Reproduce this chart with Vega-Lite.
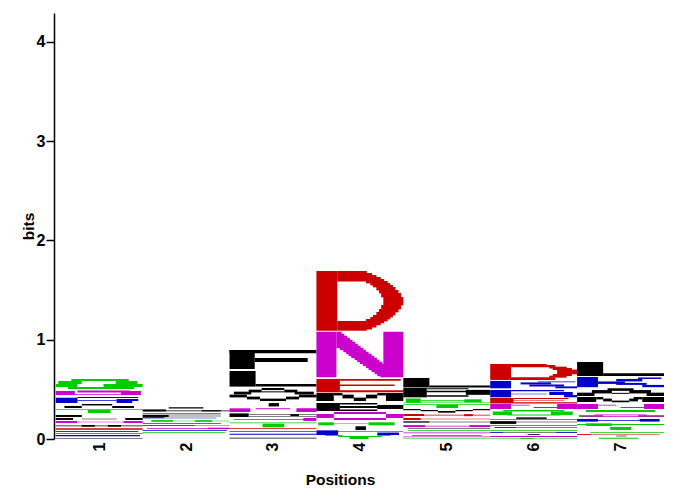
{"$schema":"https://vega.github.io/schema/vega-lite/v6.json","width":610,"height":426,"autosize":{"type":"none"},"padding":{"left":54,"top":13,"right":16,"bottom":52},"background":"white","config":{"view":{"stroke":null}},
"data":{"values":[
{"r":"G","a":0.68,"b":1.34,"y":0.584,"t":0.605},{"r":"G","a":0.53,"b":0.80,"y":0.554,"t":0.584},{"r":"G","a":1.19,"b":1.44,"y":0.554,"t":0.584},{"r":"G","a":0.5,"b":0.75,"y":0.524,"t":0.554},{"r":"G","a":1.05,"b":1.5,"y":0.524,"t":0.554},{"r":"G","a":0.64,"b":1.40,"y":0.504,"t":0.524},
{"r":"N","a":0.75,"b":1.35,"y":0.469,"t":0.489},{"r":"N","a":0.5,"b":0.72,"y":0.443,"t":0.484},{"r":"N","a":1.25,"b":1.48,"y":0.443,"t":0.484},{"r":"N","a":0.7,"b":1.3,"y":0.446,"t":0.454},
{"r":"K","a":0.5,"b":0.75,"y":0.363,"t":0.416},{"r":"K","a":0.75,"b":1.45,"y":0.413,"t":0.423},{"r":"K","a":0.75,"b":1.2,"y":0.385,"t":0.393},{"r":"K","a":1.2,"b":1.45,"y":0.383,"t":0.403},{"r":"K","a":1.2,"b":1.38,"y":0.363,"t":0.383},
{"r":"A","a":0.8,"b":1.15,"y":0.338,"t":0.353},{"r":"A","a":0.6,"b":0.8,"y":0.312,"t":0.333},{"r":"A","a":1.15,"b":1.4,"y":0.312,"t":0.333},
{"r":"T","a":0.5,"b":1.5,"y":0.295,"t":0.302},{"r":"T","a":0.87,"b":1.13,"y":0.262,"t":0.292},
{"r":"L","a":0.5,"b":0.8,"y":0.222,"t":0.242},{"r":"L","a":0.5,"b":0.7,"y":0.192,"t":0.212},{"r":"L","a":1.3,"b":1.5,"y":0.192,"t":0.212},{"r":"L","a":0.8,"b":1.2,"y":0.199,"t":0.205},
{"r":"N","a":0.5,"b":0.75,"y":0.161,"t":0.181},{"r":"N","a":1.28,"b":1.5,"y":0.161,"t":0.181},{"r":"N","a":0.75,"b":1.28,"y":0.169,"t":0.174},
{"r":"L","a":0.5,"b":1.5,"y":0.129,"t":0.135},{"r":"L","a":0.8,"b":0.95,"y":0.124,"t":0.141},{"r":"L","a":1.1,"b":1.25,"y":0.124,"t":0.141},
{"r":"D","a":0.5,"b":1.5,"y":0.094,"t":0.108},{"r":"L","a":0.5,"b":1.45,"y":0.071,"t":0.079},{"r":"N","a":0.5,"b":1.5,"y":0.053,"t":0.06},{"r":"K","a":0.5,"b":1.47,"y":0.027,"t":0.04},{"r":"L","a":0.5,"b":1.5,"y":0.004,"t":0.01},

{"r":"A","a":1.8,"b":2.2,"y":0.308,"t":0.32},{"r":"L","a":1.5,"b":2.5,"y":0.28,"t":0.287},{"r":"L","a":1.5,"b":1.77,"y":0.278,"t":0.298},{"r":"L","a":2.18,"b":2.4,"y":0.278,"t":0.29},
{"r":"L","a":1.5,"b":2.4,"y":0.25,"t":0.256},{"r":"L","a":1.5,"b":1.8,"y":0.222,"t":0.242},{"r":"L","a":1.8,"b":2.4,"y":0.228,"t":0.234},
{"r":"K","a":1.5,"b":1.75,"y":0.208,"t":0.22},{"r":"K","a":1.75,"b":2.35,"y":0.21,"t":0.215},
{"r":"G","a":1.6,"b":2.5,"y":0.178,"t":0.184},{"r":"G","a":1.6,"b":1.85,"y":0.174,"t":0.19},{"r":"G","a":2.1,"b":2.3,"y":0.174,"t":0.19},
{"r":"D","a":1.5,"b":2.4,"y":0.152,"t":0.158},{"r":"N","a":1.5,"b":2.5,"y":0.13,"t":0.136},{"r":"L","a":1.5,"b":2.1,"y":0.131,"t":0.135},{"r":"N","a":1.55,"b":2.5,"y":0.102,"t":0.108},{"r":"N","a":2.25,"b":2.5,"y":0.1,"t":0.114},{"r":"K","a":1.5,"b":2.47,"y":0.084,"t":0.09},{"r":"G","a":1.5,"b":2.45,"y":0.064,"t":0.07},

{"r":"F","a":2.5,"b":3.5,"y":0.865,"t":0.897},{"r":"F","a":2.5,"b":2.79,"y":0.705,"t":0.897},{"r":"F","a":2.79,"b":3.4,"y":0.777,"t":0.817},
{"r":"L","a":2.5,"b":2.8,"y":0.528,"t":0.685},{"r":"L","a":2.8,"b":3.5,"y":0.528,"t":0.554},
{"r":"A","a":2.87,"b":3.13,"y":0.493,"t":0.514},{"r":"A","a":2.72,"b":2.87,"y":0.469,"t":0.497},{"r":"A","a":3.13,"b":3.28,"y":0.469,"t":0.497},{"r":"A","a":2.55,"b":2.75,"y":0.449,"t":0.477},{"r":"A","a":3.25,"b":3.47,"y":0.449,"t":0.477},{"r":"A","a":2.87,"b":3.13,"y":0.47,"t":0.48},
{"r":"V","a":2.5,"b":2.7,"y":0.419,"t":0.447},{"r":"V","a":3.3,"b":3.5,"y":0.419,"t":0.447},{"r":"V","a":2.7,"b":2.85,"y":0.399,"t":0.427},{"r":"V","a":3.15,"b":3.3,"y":0.399,"t":0.427},{"r":"V","a":2.85,"b":3.15,"y":0.383,"t":0.407},
{"r":"I","a":2.95,"b":3.07,"y":0.328,"t":0.362},
{"r":"N","a":2.5,"b":2.74,"y":0.272,"t":0.309},{"r":"N","a":3.27,"b":3.5,"y":0.272,"t":0.309},{"r":"N","a":2.8,"b":3.2,"y":0.3,"t":0.309},
{"r":"L","a":2.5,"b":2.72,"y":0.222,"t":0.258},{"r":"L","a":2.72,"b":3.5,"y":0.247,"t":0.252},{"r":"L","a":3.2,"b":3.3,"y":0.232,"t":0.25},{"r":"L","a":2.72,"b":3.5,"y":0.225,"t":0.23},
{"r":"N","a":2.55,"b":3.4,"y":0.192,"t":0.2},{"r":"N","a":3.35,"b":3.5,"y":0.182,"t":0.212},
{"r":"G","a":2.5,"b":3.5,"y":0.159,"t":0.165},{"r":"G","a":2.88,"b":3.13,"y":0.118,"t":0.154},
{"r":"D","a":2.5,"b":3.5,"y":0.102,"t":0.108},{"r":"D","a":2.5,"b":3.5,"y":0.072,"t":0.08},{"r":"K","a":2.5,"b":3.5,"y":0.044,"t":0.053},{"r":"L","a":2.5,"b":3.5,"y":0.004,"t":0.012},

{"r":"D","a":3.5,"b":3.74,"y":1.091,"t":1.693},
{"r":"D","a":3.74,"b":4.08,"y":1.669,"t":1.693},{"r":"D","a":3.74,"b":4.14,"y":1.648,"t":1.673},{"r":"D","a":3.74,"b":4.19,"y":1.628,"t":1.652},{"r":"D","a":3.74,"b":4.24,"y":1.608,"t":1.632},{"r":"D","a":3.74,"b":4.28,"y":1.588,"t":1.612},
{"r":"D","a":4.07,"b":4.32,"y":1.568,"t":1.592},{"r":"D","a":4.12,"b":4.35,"y":1.548,"t":1.572},{"r":"D","a":4.15,"b":4.38,"y":1.528,"t":1.552},{"r":"D","a":4.19,"b":4.41,"y":1.497,"t":1.532},{"r":"D","a":4.22,"b":4.445,"y":1.467,"t":1.501},{"r":"D","a":4.245,"b":4.475,"y":1.427,"t":1.471},{"r":"D","a":4.27,"b":4.5,"y":1.346,"t":1.431},{"r":"D","a":4.245,"b":4.475,"y":1.306,"t":1.35},{"r":"D","a":4.22,"b":4.445,"y":1.276,"t":1.31},{"r":"D","a":4.19,"b":4.41,"y":1.245,"t":1.28},{"r":"D","a":4.15,"b":4.38,"y":1.225,"t":1.249},{"r":"D","a":4.12,"b":4.35,"y":1.205,"t":1.229},{"r":"D","a":4.07,"b":4.32,"y":1.185,"t":1.209},
{"r":"D","a":3.74,"b":4.28,"y":1.165,"t":1.189},{"r":"D","a":3.74,"b":4.24,"y":1.145,"t":1.169},{"r":"D","a":3.74,"b":4.19,"y":1.124,"t":1.149},{"r":"D","a":3.74,"b":4.14,"y":1.104,"t":1.128},{"r":"D","a":3.74,"b":4.08,"y":1.091,"t":1.108},

{"r":"N","a":3.5,"b":3.73,"y":0.621,"t":1.081},{"r":"N","a":4.27,"b":4.5,"y":0.621,"t":1.081},
{"r":"N","a":3.73,"b":3.79,"y":1.057,"t":1.081},{"r":"N","a":3.73,"b":3.82,"y":1.037,"t":1.061},{"r":"N","a":3.73,"b":3.854,"y":1.016,"t":1.041},{"r":"N","a":3.73,"b":3.885,"y":0.996,"t":1.02},{"r":"N","a":3.73,"b":3.915,"y":0.976,"t":1.0},{"r":"N","a":3.73,"b":3.946,"y":0.956,"t":0.98},{"r":"N","a":3.73,"b":3.977,"y":0.936,"t":0.96},{"r":"N","a":3.73,"b":4.008,"y":0.916,"t":0.94},{"r":"N","a":3.77,"b":4.04,"y":0.895,"t":0.92},{"r":"N","a":3.81,"b":4.07,"y":0.875,"t":0.899},{"r":"N","a":3.84,"b":4.1,"y":0.855,"t":0.879},{"r":"N","a":3.87,"b":4.135,"y":0.835,"t":0.859},{"r":"N","a":3.9,"b":4.165,"y":0.815,"t":0.839},{"r":"N","a":3.94,"b":4.196,"y":0.795,"t":0.819},{"r":"N","a":3.97,"b":4.227,"y":0.774,"t":0.799},{"r":"N","a":4.0,"b":4.258,"y":0.754,"t":0.778},{"r":"N","a":4.035,"b":4.28,"y":0.734,"t":0.758},{"r":"N","a":4.07,"b":4.28,"y":0.714,"t":0.738},{"r":"N","a":4.1,"b":4.28,"y":0.694,"t":0.718},{"r":"N","a":4.135,"b":4.28,"y":0.674,"t":0.698},{"r":"N","a":4.17,"b":4.28,"y":0.653,"t":0.678},{"r":"N","a":4.2,"b":4.28,"y":0.633,"t":0.657},{"r":"N","a":4.235,"b":4.28,"y":0.621,"t":0.637},

{"r":"E","a":3.5,"b":3.77,"y":0.47,"t":0.605},{"r":"E","a":3.77,"b":4.47,"y":0.588,"t":0.605},{"r":"E","a":3.77,"b":4.4,"y":0.535,"t":0.55},{"r":"E","a":3.77,"b":4.5,"y":0.47,"t":0.49},
{"r":"M","a":3.5,"b":3.7,"y":0.383,"t":0.463},{"r":"M","a":4.3,"b":4.5,"y":0.383,"t":0.463},{"r":"M","a":3.7,"b":3.8,"y":0.439,"t":0.463},{"r":"M","a":4.2,"b":4.3,"y":0.439,"t":0.463},{"r":"M","a":3.8,"b":3.93,"y":0.409,"t":0.447},{"r":"M","a":4.07,"b":4.2,"y":0.409,"t":0.447},{"r":"M","a":3.93,"b":4.07,"y":0.383,"t":0.417},
{"r":"P","a":3.5,"b":3.77,"y":0.282,"t":0.363},{"r":"P","a":3.77,"b":4.2,"y":0.348,"t":0.363},{"r":"P","a":3.77,"b":4.45,"y":0.312,"t":0.333},{"r":"P","a":3.77,"b":4.2,"y":0.282,"t":0.297},{"r":"P","a":4.2,"b":4.5,"y":0.302,"t":0.343},
{"r":"O","a":3.7,"b":4.3,"y":0.252,"t":0.272},{"r":"O","a":3.5,"b":3.7,"y":0.212,"t":0.252},{"r":"O","a":4.3,"b":4.5,"y":0.212,"t":0.252},{"r":"O","a":3.7,"b":4.3,"y":0.192,"t":0.212},
{"r":"G","a":3.52,"b":3.7,"y":0.138,"t":0.168},{"r":"G","a":4.1,"b":4.4,"y":0.138,"t":0.168},{"r":"G","a":3.7,"b":4.1,"y":0.15,"t":0.156},
{"r":"I","a":3.95,"b":4.07,"y":0.09,"t":0.128},
{"r":"K","a":3.5,"b":3.75,"y":0.04,"t":0.087},{"r":"K","a":3.75,"b":4.5,"y":0.075,"t":0.08},{"r":"K","a":4.2,"b":4.45,"y":0.04,"t":0.065},
{"r":"G","a":3.6,"b":3.8,"y":0.03,"t":0.04},{"r":"G","a":4.2,"b":4.35,"y":0.03,"t":0.04},{"r":"G","a":3.88,"b":4.1,"y":0.0,"t":0.02},{"r":"G","a":3.75,"b":4.25,"y":0.02,"t":0.03},

{"r":"L","a":4.5,"b":4.8,"y":0.52,"t":0.615},{"r":"L","a":4.8,"b":5.5,"y":0.52,"t":0.54},
{"r":"P","a":4.5,"b":4.77,"y":0.42,"t":0.515},{"r":"P","a":4.77,"b":5.25,"y":0.5,"t":0.512},{"r":"P","a":4.77,"b":5.5,"y":0.47,"t":0.485},{"r":"P","a":5.22,"b":5.5,"y":0.445,"t":0.495},{"r":"P","a":4.77,"b":5.25,"y":0.425,"t":0.44},
{"r":"G","a":4.53,"b":4.7,"y":0.365,"t":0.408},{"r":"G","a":5.2,"b":5.4,"y":0.37,"t":0.4},{"r":"G","a":4.7,"b":5.2,"y":0.38,"t":0.39},{"r":"G","a":4.5,"b":5.5,"y":0.362,"t":0.368},
{"r":"T","a":4.5,"b":5.5,"y":0.345,"t":0.352},{"r":"T","a":4.88,"b":5.13,"y":0.312,"t":0.344},
{"r":"V","a":4.5,"b":4.7,"y":0.29,"t":0.302},{"r":"V","a":5.3,"b":5.5,"y":0.29,"t":0.302},{"r":"V","a":4.7,"b":4.9,"y":0.28,"t":0.292},{"r":"V","a":5.1,"b":5.3,"y":0.28,"t":0.292},{"r":"V","a":4.9,"b":5.1,"y":0.265,"t":0.282},
{"r":"D","a":4.5,"b":4.74,"y":0.232,"t":0.252},{"r":"D","a":4.74,"b":5.5,"y":0.238,"t":0.245},{"r":"D","a":5.2,"b":5.3,"y":0.23,"t":0.25},
{"r":"D","a":4.5,"b":4.7,"y":0.192,"t":0.212},{"r":"D","a":4.7,"b":5.5,"y":0.198,"t":0.205},
{"r":"L","a":4.5,"b":4.8,"y":0.165,"t":0.178},{"r":"L","a":4.8,"b":5.5,"y":0.17,"t":0.175},
{"r":"N","a":4.5,"b":4.75,"y":0.12,"t":0.14},{"r":"N","a":5.26,"b":5.5,"y":0.12,"t":0.14},{"r":"N","a":4.75,"b":5.26,"y":0.127,"t":0.133},
{"r":"L","a":4.55,"b":5.5,"y":0.1,"t":0.106},{"r":"G","a":4.55,"b":5.5,"y":0.08,"t":0.087},{"r":"N","a":4.5,"b":5.5,"y":0.058,"t":0.065},{"r":"L","a":4.6,"b":5.4,"y":0.03,"t":0.036},{"r":"N","a":4.5,"b":5.5,"y":0.024,"t":0.03},{"r":"G","a":4.5,"b":5.5,"y":0.005,"t":0.012},

{"r":"D","a":5.5,"b":5.74,"y":0.595,"t":0.756},{"r":"D","a":5.74,"b":6.15,"y":0.743,"t":0.756},{"r":"D","a":5.74,"b":6.25,"y":0.722,"t":0.745},{"r":"D","a":6.18,"b":6.38,"y":0.71,"t":0.729},{"r":"D","a":6.22,"b":6.44,"y":0.696,"t":0.715},{"r":"D","a":6.27,"b":6.5,"y":0.652,"t":0.7},{"r":"D","a":6.22,"b":6.44,"y":0.634,"t":0.655},{"r":"D","a":6.18,"b":6.38,"y":0.618,"t":0.638},{"r":"D","a":5.74,"b":6.25,"y":0.595,"t":0.622},
{"r":"K","a":5.5,"b":5.74,"y":0.511,"t":0.585},{"r":"K","a":6.05,"b":6.48,"y":0.572,"t":0.58},{"r":"K","a":5.85,"b":6.2,"y":0.55,"t":0.57},{"r":"K","a":5.95,"b":6.35,"y":0.53,"t":0.55},{"r":"K","a":6.25,"b":6.5,"y":0.511,"t":0.53},
{"r":"R","a":5.5,"b":5.74,"y":0.42,"t":0.494},{"r":"R","a":5.74,"b":6.35,"y":0.48,"t":0.494},{"r":"R","a":6.18,"b":6.45,"y":0.443,"t":0.474},{"r":"R","a":6.35,"b":6.5,"y":0.42,"t":0.443},{"r":"R","a":5.74,"b":6.15,"y":0.45,"t":0.457},
{"r":"E","a":5.5,"b":5.77,"y":0.358,"t":0.413},{"r":"E","a":5.77,"b":6.4,"y":0.403,"t":0.413},{"r":"E","a":5.77,"b":6.35,"y":0.385,"t":0.39},{"r":"E","a":5.77,"b":6.5,"y":0.358,"t":0.37},
{"r":"N","a":5.5,"b":5.74,"y":0.302,"t":0.353},{"r":"N","a":6.27,"b":6.5,"y":0.302,"t":0.353},{"r":"N","a":5.74,"b":5.95,"y":0.337,"t":0.345},{"r":"N","a":6.0,"b":6.27,"y":0.312,"t":0.322},
{"r":"G","a":5.65,"b":6.35,"y":0.278,"t":0.292},{"r":"G","a":5.53,"b":5.75,"y":0.242,"t":0.277},{"r":"G","a":6.2,"b":6.45,"y":0.242,"t":0.277},{"r":"G","a":5.7,"b":6.3,"y":0.238,"t":0.248},
{"r":"A","a":5.8,"b":6.15,"y":0.203,"t":0.218},{"r":"A","a":5.5,"b":6.5,"y":0.191,"t":0.197},{"r":"L","a":5.5,"b":5.8,"y":0.152,"t":0.18},{"r":"L","a":5.8,"b":6.5,"y":0.168,"t":0.174},
{"r":"L","a":5.5,"b":6.5,"y":0.136,"t":0.142},{"r":"L","a":5.55,"b":5.8,"y":0.112,"t":0.12},{"r":"L","a":5.8,"b":6.5,"y":0.113,"t":0.118},
{"r":"G","a":5.5,"b":6.5,"y":0.082,"t":0.09},{"r":"K","a":5.5,"b":5.65,"y":0.062,"t":0.071},{"r":"K","a":6.25,"b":6.5,"y":0.062,"t":0.071},{"r":"L","a":5.65,"b":6.25,"y":0.064,"t":0.069},
{"r":"I","a":5.93,"b":6.07,"y":0.041,"t":0.049},{"r":"N","a":5.5,"b":6.5,"y":0.021,"t":0.029},{"r":"G","a":5.85,"b":6.0,"y":0.002,"t":0.011},{"r":"G","a":5.5,"b":6.5,"y":0.004,"t":0.009},

{"r":"L","a":6.5,"b":6.8,"y":0.635,"t":0.776},{"r":"L","a":6.8,"b":7.5,"y":0.635,"t":0.663},
{"r":"K","a":6.5,"b":6.74,"y":0.522,"t":0.625},{"r":"K","a":7.2,"b":7.47,"y":0.605,"t":0.62},{"r":"K","a":6.95,"b":7.25,"y":0.58,"t":0.605},{"r":"K","a":6.74,"b":7.05,"y":0.555,"t":0.58},{"r":"K","a":6.95,"b":7.3,"y":0.545,"t":0.565},{"r":"K","a":7.25,"b":7.5,"y":0.522,"t":0.545},
{"r":"A","a":6.85,"b":7.15,"y":0.485,"t":0.511},{"r":"A","a":6.67,"b":6.9,"y":0.459,"t":0.493},{"r":"A","a":7.1,"b":7.35,"y":0.459,"t":0.493},{"r":"A","a":6.5,"b":6.7,"y":0.433,"t":0.467},{"r":"A","a":7.3,"b":7.5,"y":0.433,"t":0.467},{"r":"A","a":6.9,"b":7.1,"y":0.455,"t":0.465},
{"r":"V","a":6.5,"b":6.72,"y":0.373,"t":0.423},{"r":"V","a":7.25,"b":7.5,"y":0.373,"t":0.423},{"r":"V","a":6.72,"b":6.8,"y":0.399,"t":0.423},{"r":"V","a":7.15,"b":7.25,"y":0.399,"t":0.423},{"r":"V","a":6.8,"b":6.9,"y":0.379,"t":0.407},{"r":"V","a":7.1,"b":7.2,"y":0.379,"t":0.407},{"r":"V","a":6.9,"b":7.1,"y":0.37,"t":0.387},
{"r":"N","a":6.5,"b":6.74,"y":0.302,"t":0.353},{"r":"N","a":7.27,"b":7.5,"y":0.302,"t":0.353},{"r":"N","a":6.74,"b":6.95,"y":0.337,"t":0.345},{"r":"N","a":7.0,"b":7.27,"y":0.312,"t":0.322},
{"r":"G","a":6.6,"b":7.4,"y":0.272,"t":0.292},{"r":"G","a":6.52,"b":6.8,"y":0.222,"t":0.242},{"r":"G","a":7.2,"b":7.5,"y":0.222,"t":0.242},{"r":"N","a":6.7,"b":7.3,"y":0.24,"t":0.248},{"r":"N","a":6.55,"b":7.5,"y":0.222,"t":0.228},
{"r":"K","a":6.5,"b":6.74,"y":0.175,"t":0.202},{"r":"K","a":7.22,"b":7.45,"y":0.175,"t":0.202},{"r":"K","a":6.74,"b":7.22,"y":0.184,"t":0.192},
{"r":"G","a":6.6,"b":6.9,"y":0.131,"t":0.158},{"r":"G","a":6.5,"b":7.5,"y":0.14,"t":0.15},
{"r":"T","a":6.88,"b":7.12,"y":0.091,"t":0.121},
{"r":"G","a":6.65,"b":7.5,"y":0.062,"t":0.07},{"r":"D","a":6.5,"b":6.66,"y":0.041,"t":0.05},{"r":"D","a":6.66,"b":7.45,"y":0.043,"t":0.048},{"r":"I","a":6.95,"b":7.07,"y":0.027,"t":0.033},{"r":"G","a":6.75,"b":7.2,"y":0.002,"t":0.012}
]},
"mark":{"type":"rect"},
"encoding":{
"x":{"field":"a","type":"quantitative","scale":{"domain":[0.48,7.5],"nice":false,"zero":false},"axis":{"values":[1,2,3,4,5,6,7],"title":"Positions","titleX":286,"grid":false,"domain":false,"ticks":false,"labelAngle":-90,"labelAlign":"right","labelBaseline":"middle","labelFont":"Liberation Sans","labelFontWeight":"bold","labelFontSize":16,"labelColor":"black","labelPadding":3,"titleFont":"Liberation Sans","titleFontWeight":"bold","titleFontSize":15.5,"titleColor":"black","titlePadding":22,"labelFlush":false}},
"x2":{"field":"b"},
"y":{"field":"y","type":"quantitative","scale":{"domain":[0,4.292],"nice":false},"axis":{"values":[0,1,2,3,4],"title":"bits","grid":false,"domainColor":"black","domainWidth":1.5,"tickColor":"black","tickWidth":1.5,"tickSize":8,"labelFont":"Liberation Sans","labelFontWeight":"bold","labelFontSize":16,"labelColor":"black","labelPadding":1,"titleFont":"Liberation Sans","titleFontWeight":"bold","titleFontSize":15.5,"titleColor":"black","titlePadding":0}},
"y2":{"field":"t"},
"color":{"field":"r","type":"nominal","legend":null,"scale":{"domain":["D","E","N","O","G","T","K","R","A","F","I","L","M","P","V"],"range":["#CC0000","#CC0000","#CC00CC","#CC00CC","#00CC00","#00CC00","#0000CC","#0000CC","#000000","#000000","#000000","#000000","#000000","#000000","#000000"]}}
}}
